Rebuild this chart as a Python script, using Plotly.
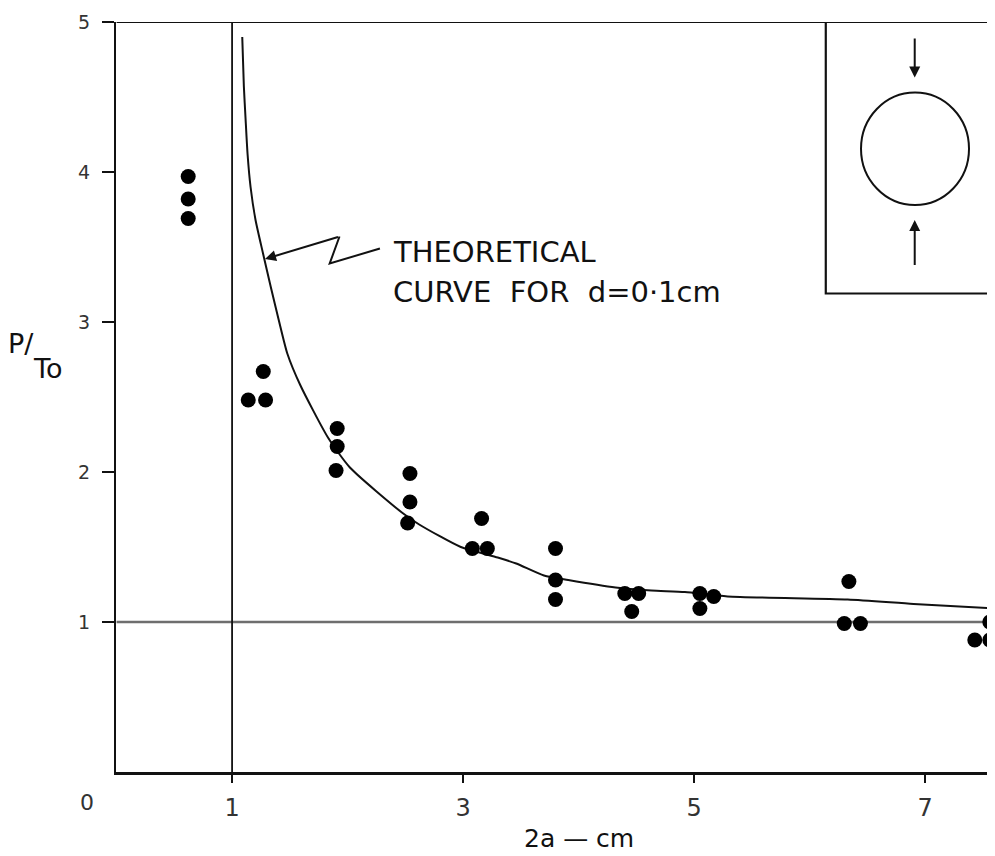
import plotly.graph_objects as go

# Measured points (2a in cm, P/T0)
pt_x = [0.62, 0.62, 0.62,
        1.14, 1.29, 1.27,
        1.91, 1.91, 1.90,
        2.54, 2.54, 2.52,
        3.16, 3.08, 3.21,
        3.80, 3.80, 3.80,
        4.40, 4.52, 4.46,
        5.05, 5.17, 5.05,
        6.34, 6.30, 6.44,
        7.56, 7.43, 7.56]
pt_y = [3.97, 3.82, 3.69,
        2.48, 2.48, 2.67,
        2.29, 2.17, 2.01,
        1.99, 1.80, 1.66,
        1.69, 1.49, 1.49,
        1.49, 1.28, 1.15,
        1.19, 1.19, 1.07,
        1.19, 1.17, 1.09,
        1.27, 0.99, 0.99,
        1.00, 0.88, 0.88]

# Theoretical curve for d = 0.1 cm
curve_x = [1.088, 1.102, 1.117, 1.134, 1.160, 1.203, 1.267, 1.333, 1.405, 1.478,
           1.59, 1.83, 2.02, 2.47, 2.62, 2.98, 3.30, 3.46, 3.70, 3.91, 4.32,
           4.63, 4.92, 5.29, 6.33, 6.90, 7.61]
curve_y = [4.90, 4.57, 4.35, 4.12, 3.90, 3.68, 3.46, 3.24, 3.01, 2.79,
           2.58, 2.23, 2.03, 1.73, 1.65, 1.50, 1.43, 1.39, 1.31, 1.28, 1.23,
           1.21, 1.20, 1.17, 1.15, 1.12, 1.09]

x_ticks = [1, 3, 5, 7]
y_ticks = [1, 2, 3, 4, 5]

FONT = "DejaVu Sans"
INK = "#111111"

fig = go.Figure()

# reference lines P/T0 = 1 and 2a = 1
fig.add_trace(go.Scatter(x=[0, 7.61], y=[1, 1], mode="lines",
                         line=dict(color="#6e6e6e", width=2.5),
                         hoverinfo="skip", showlegend=False))
fig.add_trace(go.Scatter(x=[1, 1], y=[0, 5], mode="lines",
                         line=dict(color=INK, width=1.8),
                         hoverinfo="skip", showlegend=False))

fig.add_trace(go.Scatter(x=curve_x, y=curve_y, mode="lines",
                         line=dict(color=INK, width=2, shape="spline", smoothing=0.6),
                         showlegend=False))
fig.add_trace(go.Scatter(x=pt_x, y=pt_y, mode="markers",
                         marker=dict(color="black", size=15),
                         showlegend=False, cliponaxis=False))

# top frame line
fig.add_shape(type="line", xref="x", yref="y", x0=0, x1=7.61, y0=5, y1=5,
              line=dict(color=INK, width=2.2))

# inset box with loaded ring
fig.add_shape(type="path", xref="x", yref="y",
              path="M 6.14 5 L 6.14 3.19 L 7.62 3.19",
              line=dict(color=INK, width=2.2))
fig.add_shape(type="circle", xref="x", yref="y",
              x0=6.445, x1=7.38, y0=3.78, y1=4.53,
              line=dict(color=INK, width=2))
fig.add_annotation(x=6.91, y=4.63, ax=6.91, ay=4.90, xref="x", yref="y",
                   axref="x", ayref="y", text="", showarrow=True,
                   arrowhead=2, arrowsize=1.1, arrowwidth=2, arrowcolor=INK)
fig.add_annotation(x=6.91, y=3.68, ax=6.91, ay=3.37, xref="x", yref="y",
                   axref="x", ayref="y", text="", showarrow=True,
                   arrowhead=2, arrowsize=1.1, arrowwidth=2, arrowcolor=INK)

# leader line to theoretical curve
fig.add_shape(type="path", xref="x", yref="y",
              path="M 2.28 3.49 L 1.845 3.39 L 1.93 3.57",
              line=dict(color=INK, width=2))
fig.add_annotation(x=1.285, y=3.42, ax=1.93, ay=3.57, xref="x", yref="y",
                   axref="x", ayref="y", text="", showarrow=True,
                   arrowhead=2, arrowsize=1.1, arrowwidth=2, arrowcolor=INK)
fig.add_annotation(x=2.38, y=3.467, xref="x", yref="y", xanchor="left", yanchor="middle",
                   text="THEORETICAL", showarrow=False,
                   font=dict(family=FONT, size=29, color=INK))
fig.add_annotation(x=2.38, y=3.20, xref="x", yref="y", xanchor="left", yanchor="middle",
                   text="CURVE&nbsp;&nbsp;FOR&nbsp;&nbsp;d=0·1cm", showarrow=False,
                   font=dict(family=FONT, size=29, color=INK))

# axis titles and corner zero (paper coordinates, plot area 879 x 750 px)
fig.add_annotation(x=-0.033, y=-0.04, xref="paper", yref="paper", text="0",
                   showarrow=False, xanchor="center", yanchor="middle",
                   font=dict(family=FONT, size=22, color="#333333"))
fig.add_annotation(x=0.527, y=-0.088, xref="paper", yref="paper",
                   text="2a — cm", showarrow=False, xanchor="center", yanchor="middle",
                   font=dict(family=FONT, size=25, color=INK))
fig.add_annotation(x=-0.108, y=0.572, xref="paper", yref="paper",
                   text="P/", showarrow=False, xanchor="center", yanchor="middle",
                   font=dict(family=FONT, size=27, color=INK))
fig.add_annotation(x=-0.078, y=0.538, xref="paper", yref="paper",
                   text="To", showarrow=False, xanchor="center", yanchor="middle",
                   font=dict(family=FONT, size=27, color=INK))

fig.update_layout(
    width=987, height=848,
    margin=dict(l=108, r=0, t=14, b=84),
    paper_bgcolor="white", plot_bgcolor="white",
    xaxis=dict(range=[-0.005, 7.605], tickvals=x_ticks, ticktext=[str(v) for v in x_ticks],
               showgrid=False, zeroline=False, showline=True, linecolor=INK, linewidth=2.5,
               ticks="outside", ticklen=8, tickwidth=1.5, tickcolor=INK,
               ticklabelstandoff=4,
               tickfont=dict(family=FONT, size=24, color="#333333")),
    yaxis=dict(range=[0, 5], tickvals=y_ticks, ticktext=[str(v) for v in y_ticks],
               showgrid=False, zeroline=False, showline=True, linecolor=INK, linewidth=2.2,
               ticks="outside", ticklen=12, tickwidth=1.5, tickcolor=INK,
               ticklabelstandoff=8,
               tickfont=dict(family=FONT, size=19, color="#333333")),
)

fig.write_html("out.html")
